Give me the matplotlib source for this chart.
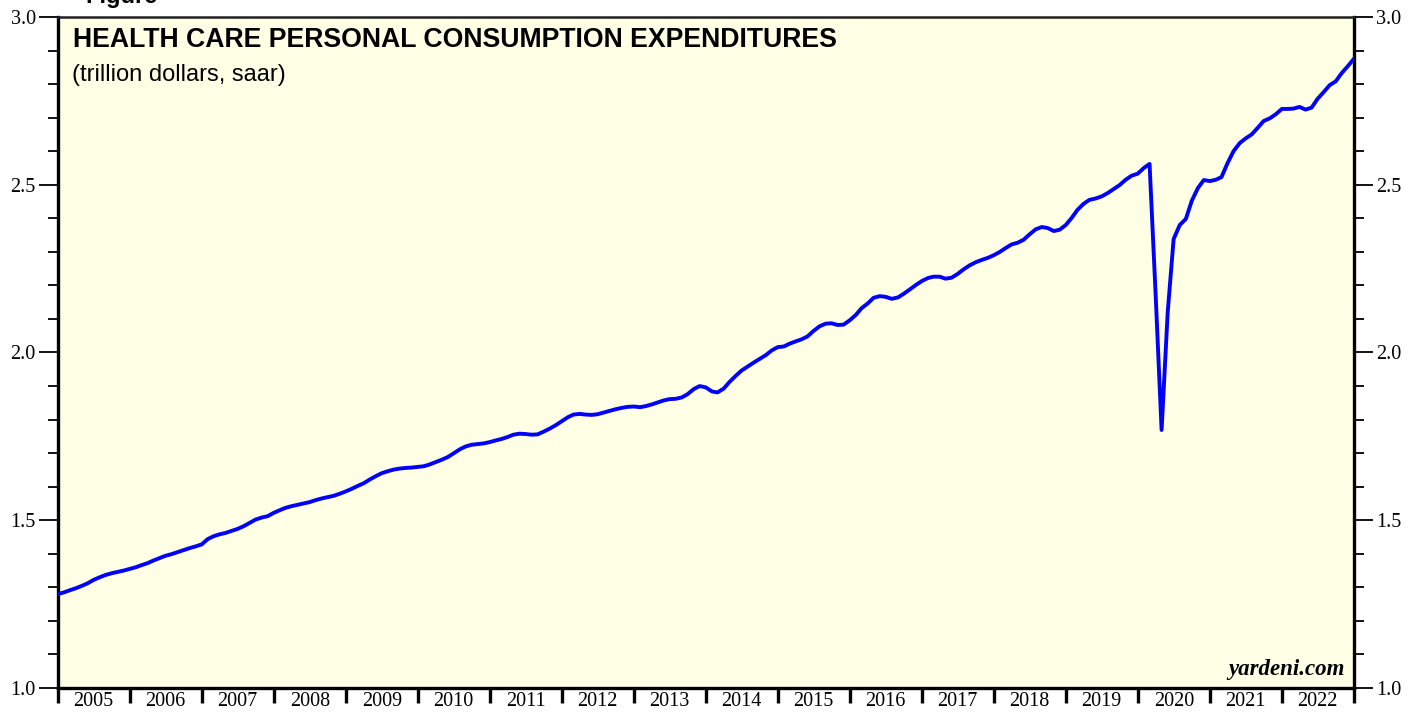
import numpy as np
import pandas as pd
import matplotlib
matplotlib.use("Agg")
import matplotlib.pyplot as plt
import matplotlib.dates as mdates
from matplotlib.ticker import MultipleLocator, NullFormatter

# health care PCE, trillion dollars saar, monthly Dec 2004 - Dec 2022
start_val = [1.280]  # Dec 2004
y2005 = [1.285, 1.291, 1.297, 1.304, 1.312, 1.322, 1.330, 1.337, 1.342, 1.346, 1.350, 1.355]
y2006 = [1.360, 1.366, 1.372, 1.380, 1.387, 1.394, 1.399, 1.405, 1.411, 1.417, 1.422, 1.428]
y2007 = [1.444, 1.452, 1.458, 1.462, 1.468, 1.474, 1.482, 1.492, 1.502, 1.508, 1.512, 1.522]
y2008 = [1.530, 1.537, 1.542, 1.546, 1.550, 1.554, 1.560, 1.565, 1.569, 1.573, 1.579, 1.586]
y2009 = [1.594, 1.602, 1.610, 1.621, 1.631, 1.640, 1.646, 1.651, 1.654, 1.656, 1.657, 1.659]
y2010 = [1.661, 1.666, 1.673, 1.680, 1.688, 1.699, 1.711, 1.720, 1.725, 1.727, 1.729, 1.733]
y2011 = [1.738, 1.742, 1.748, 1.755, 1.758, 1.757, 1.755, 1.756, 1.764, 1.773, 1.783, 1.795]
y2012 = [1.807, 1.815, 1.817, 1.815, 1.814, 1.816, 1.821, 1.826, 1.831, 1.835, 1.838, 1.839]
y2013 = [1.837, 1.840, 1.845, 1.851, 1.857, 1.861, 1.862, 1.866, 1.876, 1.891, 1.900, 1.896]
y2014 = [1.884, 1.881, 1.892, 1.912, 1.930, 1.946, 1.958, 1.970, 1.981, 1.992, 2.006, 2.016]
y2015 = [2.018, 2.026, 2.033, 2.039, 2.048, 2.064, 2.078, 2.086, 2.087, 2.082, 2.083, 2.096]
y2016 = [2.112, 2.132, 2.146, 2.163, 2.168, 2.166, 2.160, 2.164, 2.175, 2.188, 2.201, 2.213]
y2017 = [2.222, 2.226, 2.226, 2.220, 2.223, 2.234, 2.248, 2.260, 2.269, 2.276, 2.282, 2.290]
y2018 = [2.300, 2.311, 2.322, 2.327, 2.336, 2.352, 2.367, 2.374, 2.371, 2.362, 2.366, 2.380]
y2019 = [2.402, 2.425, 2.443, 2.455, 2.459, 2.465, 2.475, 2.487, 2.499, 2.515, 2.527, 2.533]
y2020 = [2.550, 2.562, 2.170, 1.769, 2.120, 2.338, 2.380, 2.398, 2.452, 2.490, 2.514, 2.511]
y2021 = [2.515, 2.523, 2.565, 2.600, 2.624, 2.638, 2.650, 2.670, 2.690, 2.698, 2.710, 2.726]
y2022 = [2.726, 2.727, 2.732, 2.724, 2.730, 2.756, 2.776, 2.797, 2.808, 2.833, 2.853, 2.875]

years = list(range(2005, 2023))
values = (start_val + y2005 + y2006 + y2007 + y2008 + y2009 + y2010 + y2011 + y2012
          + y2013 + y2014 + y2015 + y2016 + y2017 + y2018 + y2019 + y2020 + y2021 + y2022)
dates = pd.date_range("2004-12-31", "2022-12-31", freq="ME")

bg = "#FFFFE6"

fig = plt.figure(figsize=(14.21, 7.17), dpi=100)
ax = fig.add_axes([58 / 1421, 29 / 717, 1296 / 1421, 671 / 717])
ax.set_facecolor(bg)

ax.plot(dates, values, color="#0000FF", lw=2.8, solid_joinstyle="round", zorder=3)

ax.set_xlim(pd.Timestamp("2005-01-01"), pd.Timestamp("2023-01-01"))
ax.set_ylim(1.0, 3.0)

# x axis: ticks at year boundaries, labels mid-year
ax.xaxis.set_major_locator(mdates.YearLocator())
ax.xaxis.set_major_formatter(NullFormatter())
ax.xaxis.set_minor_locator(mdates.MonthLocator(bymonth=7, bymonthday=1))
ax.xaxis.set_minor_formatter(mdates.DateFormatter("%Y"))
ax.tick_params(axis="x", which="major", direction="out", length=11, width=2.4, color="black")
ax.tick_params(axis="x", which="minor", length=0, pad=3, labelsize=14.5)

# y axis on both sides
ax.yaxis.set_major_locator(MultipleLocator(0.5))
ax.yaxis.set_minor_locator(MultipleLocator(0.1))
ax.yaxis.set_major_formatter(plt.FuncFormatter(lambda v, p: "%.1f" % v))
ax.tick_params(axis="y", which="major", direction="out", length=14, width=1.3,
               left=True, right=True, labelleft=True, labelright=True, labelsize=14.5, pad=2)
ax.tick_params(axis="y", which="minor", direction="out", length=7, width=1.3,
               left=True, right=True)

for lab in ax.get_xticklabels(minor=True) + ax.get_yticklabels():
    lab.set_family("Liberation Serif")

for side in ["left", "bottom", "right"]:
    ax.spines[side].set_linewidth(2.4)
ax.spines["top"].set_linewidth(1.8)
ax.spines["top"].set_color("#222222")

ax.text(0.0116, 0.985, "HEALTH CARE PERSONAL CONSUMPTION EXPENDITURES", transform=ax.transAxes,
        family="Liberation Sans", fontweight="bold", fontsize=19.2, va="top", ha="left")
ax.text(0.0108, 0.930, "(trillion dollars, saar)", transform=ax.transAxes,
        family="Liberation Sans", fontsize=17, va="top", ha="left")
ax.text(0.993, 0.012, "yardeni.com", transform=ax.transAxes, family="Liberation Serif",
        fontweight="bold", fontstyle="italic", fontsize=16.5, va="bottom", ha="right")

# clipped figure caption at the very top
fig.text(85 / 1421, 1 - 3 / 717, "Figure", family="Liberation Sans", fontweight="bold",
         fontsize=17, va="baseline", ha="left")

fig.savefig("out.png", dpi=100, facecolor="white")
